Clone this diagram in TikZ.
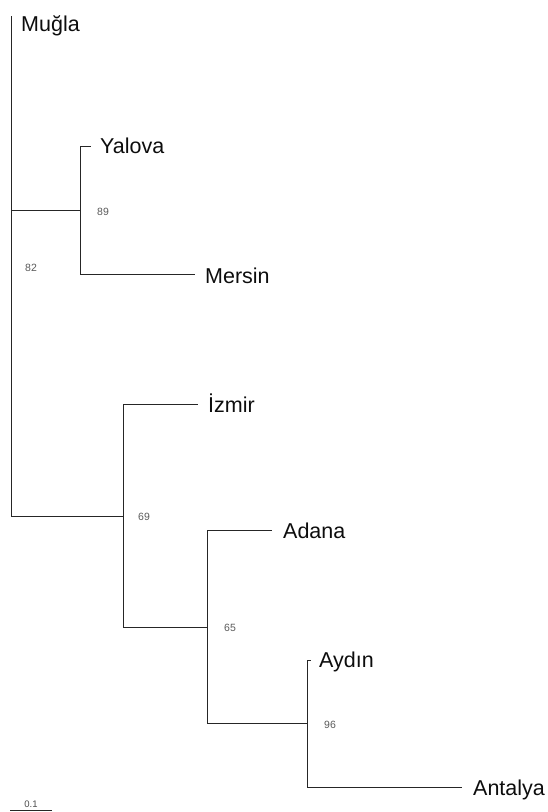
\documentclass[tikz,border=0pt]{standalone}
\usepackage{fontspec}
\setmainfont{Liberation Sans}
\begin{document}
\begin{tikzpicture}[x=1pt,y=-1pt,
  branch/.style={draw=black!85, line width=0.9pt},
  taxon/.style={anchor=base west, inner sep=0pt, font=\fontsize{21.5}{25}\selectfont, text=black!95},
  support/.style={anchor=west, inner sep=0pt, font=\fontsize{10.5}{12}\selectfont, text=black!65},
  scalelabel/.style={anchor=base, inner sep=0pt, font=\fontsize{9.5}{11}\selectfont, text=black!70}]
\useasboundingbox (0,0) rectangle (547,812);

% root and internal nodes
\coordinate (rtop) at (11,16);
\coordinate (rmid) at (11,210);
\coordinate (rbot) at (11,516);
\coordinate (n89) at (80,210);
\coordinate (n69) at (123,516);
\coordinate (n65) at (207,627);
\coordinate (n96) at (307,723);

% leaf tips
\coordinate (Mugla) at (11,23);
\coordinate (Yalova) at (91,146);
\coordinate (Mersin) at (195,274);
\coordinate (Izmir) at (198,404);
\coordinate (Adana) at (272,530);
\coordinate (Aydin) at (311,660);
\coordinate (Antalya) at (462,787);

% branches
\draw[branch] (rtop) -- (rbot) -- (n69);
\draw[branch] (rmid) -- (n89);
\draw[branch] (n89) |- (Yalova);
\draw[branch] (n89) |- (Mersin);
\draw[branch] (n69) |- (Izmir);
\draw[branch] (n69) |- (n65);
\draw[branch] (n65) |- (Adana);
\draw[branch] (n65) |- (n96);
\draw[branch] (n96) |- (Aydin);
\draw[branch] (n96) |- (Antalya);

% taxon labels
\path (Mugla)   ++(10,8) node[taxon] (lMugla)   {Muğla};
\path (Yalova)  ++(9,7)  node[taxon] (lYalova)  {Yalova};
\path (Mersin)  ++(10,9) node[taxon] (lMersin)  {Mersin};
\path (Izmir)   ++(10,8) node[taxon] (lIzmir)   {İzmir};
\path (Adana)   ++(11,8) node[taxon] (lAdana)   {Adana};
\path (Aydin)   ++(8,7)  node[taxon] (lAydin)   {Aydın};
\path (Antalya) ++(11,8) node[taxon] (lAntalya) {Antalya};

% bootstrap support values
\path (n89) ++(17,2) node[support] (s89) {89};
\path (rmid) ++(14,58) node[support] (s82) {82};
\path (n69) ++(15,1) node[support] (s69) {69};
\path (n65) ++(17,1) node[support] (s65) {65};
\path (n96) ++(17,2) node[support] (s96) {96};

% scale bar
\coordinate (sbL) at (10,810);
\coordinate (sbR) at (52,810);
\draw[branch] (sbL) -- (sbR);
\path (sbL) -- (sbR) node[midway, scalelabel, yshift=3pt] (sbT) {0.1};
\end{tikzpicture}
\end{document}
